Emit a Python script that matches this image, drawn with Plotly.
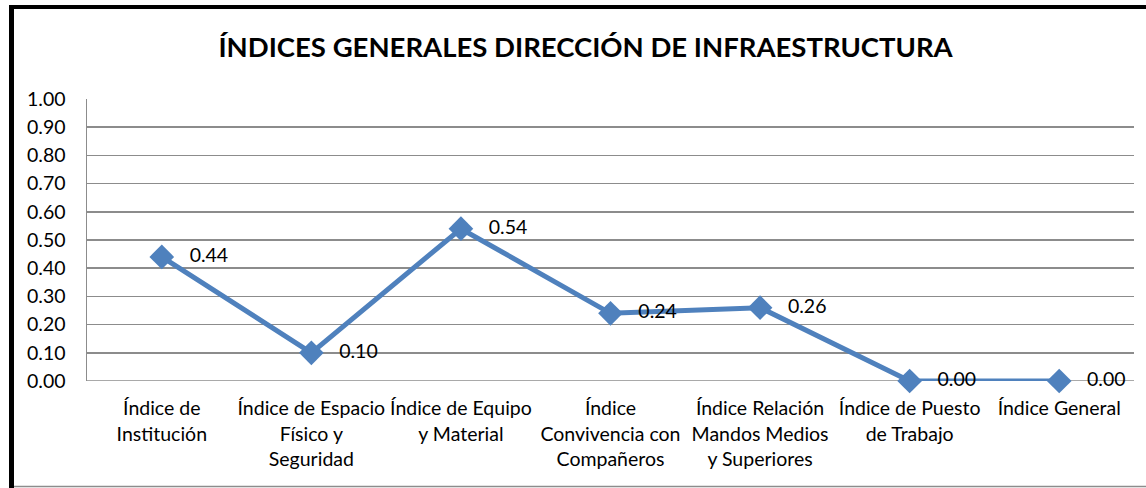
import plotly.graph_objects as go

categories = [
    "Índice de<br>Institución",
    "Índice de Espacio<br>Físico y<br>Seguridad",
    "Índice de Equipo<br>y Material",
    "Índice<br>Convivencia con<br>Compañeros",
    "Índice Relación<br>Mandos Medios<br>y Superiores",
    "Índice de Puesto<br>de Trabajo",
    "Índice General",
]
values = [0.44, 0.10, 0.54, 0.24, 0.26, 0.00, 0.00]
y_ticks = [0.0, 0.1, 0.2, 0.3, 0.4, 0.5, 0.6, 0.7, 0.8, 0.9, 1.0]

FONT = "Lato, Calibri, 'Open Sans', sans-serif"
NB = "\u00a0"
fig = go.Figure()
fig.add_trace(go.Scatter(
    x=list(range(len(categories))),
    y=values,
    mode="lines+markers+text",
    line=dict(color="#4F81BD", width=5),
    marker=dict(symbol="diamond", size=19, color="#4F81BD"),
    text=[NB * 3 + f"{v:.2f}" for v in values],
    textposition="middle right",
    textfont=dict(size=19.5, color="#000000", family=FONT),
    cliponaxis=False,
    hoverinfo="skip",
))

fig.update_layout(
    width=1146, height=488,
    margin=dict(l=87, r=12, t=99, b=107),
    paper_bgcolor="white", plot_bgcolor="white",
    showlegend=False,
    font=dict(family=FONT, size=19.5, color="#000000"),
    title=dict(text="<b>ÍNDICES GENERALES DIRECCIÓN DE INFRAESTRUCTURA</b>",
               x=0.511, xanchor="center", y=0.903, yanchor="middle",
               font=dict(size=27.5, family=FONT, color="#000000")),
)
fig.update_xaxes(
    range=[-0.5, len(categories) - 0.5],
    tickmode="array", tickvals=list(range(len(categories))), ticktext=categories,
    showgrid=False, zeroline=False, showline=False,
    ticks="outside", ticklen=10, tickcolor="rgba(0,0,0,0)",
    tickfont=dict(size=19.5, family=FONT),
)
fig.update_yaxes(
    range=[0, 1.0], tickmode="array", tickvals=y_ticks,
    tickformat=".2f",
    showgrid=True, gridcolor="#8c8c8c", gridwidth=1.5,
    zeroline=False, showline=True, linecolor="#8c8c8c", linewidth=1.5,
    ticks="outside", ticklen=16, tickcolor="rgba(0,0,0,0)",
    tickfont=dict(size=19.5, family=FONT),
)
fig.add_hline(y=0, line=dict(color="#8c8c8c", width=1.5), layer="below")

# outer frame (window pixel -> paper coords)
def px_x(p):
    return (p - 87) / 1047.0
def px_y(p):
    return (381 - p) / 282.0

fig.add_shape(type="line", xref="paper", yref="paper",
              x0=px_x(11.5), x1=px_x(11.5), y0=px_y(5), y1=px_y(490),
              line=dict(color="#000000", width=5))
fig.add_shape(type="line", xref="paper", yref="paper",
              x0=px_x(9), x1=px_x(1150), y0=px_y(7), y1=px_y(7),
              line=dict(color="#000000", width=4))
fig.add_shape(type="line", xref="paper", yref="paper",
              x0=px_x(14), x1=px_x(1146), y0=px_y(486.5), y1=px_y(486.5),
              line=dict(color="#8c8c8c", width=1.5))

fig.write_html("out.html",
               config={"displayModeBar": False, "staticPlot": True},
               post_script="document.body.style.margin='0';document.body.style.overflow='hidden';")
